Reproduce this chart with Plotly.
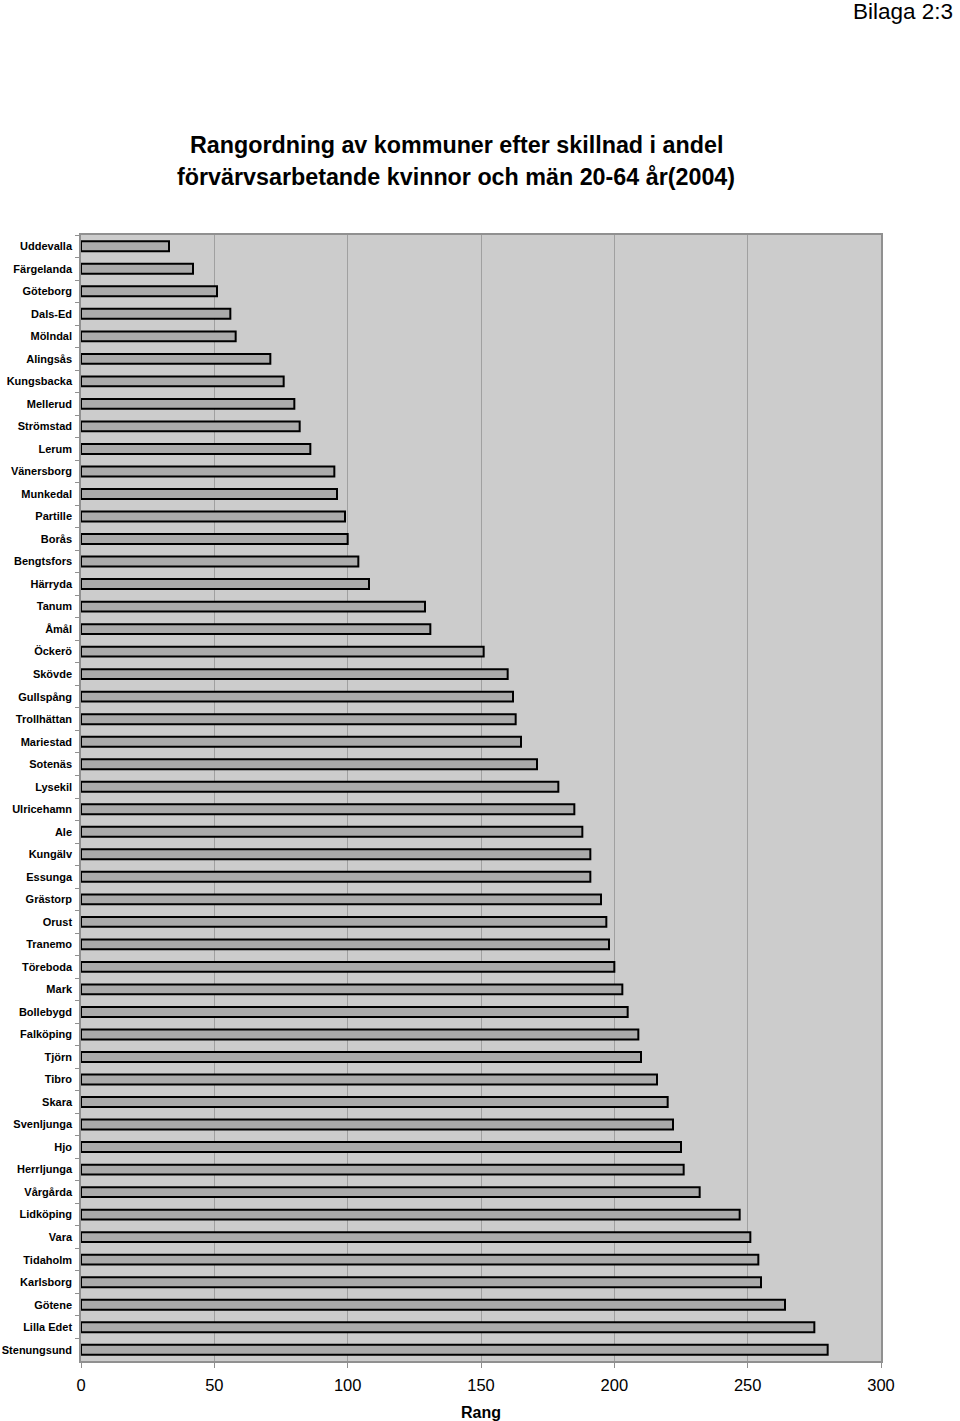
import plotly.graph_objects as go

kommuner = ["Uddevalla", "Färgelanda", "Göteborg", "Dals-Ed", "Mölndal", "Alingsås",
            "Kungsbacka", "Mellerud", "Strömstad", "Lerum", "Vänersborg", "Munkedal",
            "Partille", "Borås", "Bengtsfors", "Härryda", "Tanum", "Åmål", "Öckerö",
            "Skövde", "Gullspång", "Trollhättan", "Mariestad", "Sotenäs", "Lysekil",
            "Ulricehamn", "Ale", "Kungälv", "Essunga", "Grästorp", "Orust", "Tranemo",
            "Töreboda", "Mark", "Bollebygd", "Falköping", "Tjörn", "Tibro", "Skara",
            "Svenljunga", "Hjo", "Herrljunga", "Vårgårda", "Lidköping", "Vara",
            "Tidaholm", "Karlsborg", "Götene", "Lilla Edet", "Stenungsund"]

rang = [33, 42, 51, 56, 58, 71, 76, 80, 82, 86, 95, 96, 99, 100, 104, 108, 129, 131, 151,
        160, 162, 163, 165, 171, 179, 185, 188, 191, 191, 195, 197, 198, 200, 203, 205,
        209, 210, 216, 220, 222, 225, 226, 232, 247, 251, 254, 255, 264, 275, 280]

x_ticks = [0, 50, 100, 150, 200, 250, 300]

title_lines = ["Rangordning av kommuner efter skillnad i andel",
               "förvärvsarbetande kvinnor och män 20-64 år(2004)"]

FONT = "Liberation Sans, Arial, sans-serif"
W, H = 960, 1421
ML, MR, MT, MB = 81, 79, 235, 60

fig = go.Figure()
fig.add_trace(go.Bar(
    x=rang, y=kommuner, orientation="h",
    width=0.44,
    marker=dict(color="#ABABAB", line=dict(color="#000000", width=2)),
    hoverinfo="x+y",
))

pw = W - ML - MR
ph = H - MT - MB


def px_to_paper(px, py):
    return (px - ML) / pw, 1 - (py - MT) / ph


anns = []
for text, (px, py), size, xanchor in [
    ("<b>" + title_lines[0] + "</b>", (456, 145), 23.3, "center"),
    ("<b>" + title_lines[1] + "</b>", (456, 177), 23.3, "center"),
    ("Bilaga 2:3", (955, 12), 22.5, "right"),
    ("<b>Rang</b>", (481, 1412), 16, "center"),
]:
    xp, yp = px_to_paper(px, py)
    anns.append(dict(text=text, x=xp, y=yp, xref="paper", yref="paper",
                     xanchor=xanchor, yanchor="middle", showarrow=False,
                     font=dict(size=size, family=FONT, color="black")))

fig.update_layout(
    template="none",
    width=W, height=H,
    margin=dict(l=ML, r=MR, t=MT, b=MB, autoexpand=False),
    paper_bgcolor="white",
    plot_bgcolor="#CCCCCC",
    showlegend=False,
    font=dict(family=FONT, color="black"),
    xaxis=dict(
        range=[0, 300], tickvals=x_ticks, ticktext=[str(v) for v in x_ticks],
        showgrid=True, gridcolor="#A0A0A0", gridwidth=1,
        showline=True, linecolor="#909090", linewidth=1.5, mirror=True,
        ticks="outside", ticklen=5, tickcolor="#909090",
        tickfont=dict(size=16.5, family=FONT),
        ticklabelstandoff=3,
        zeroline=False, automargin=False,
    ),
    yaxis=dict(
        autorange="reversed",
        tickson="boundaries",
        showgrid=False,
        showline=True, linecolor="#909090", linewidth=1.5, mirror=True,
        ticks="outside", ticklen=4, tickcolor="#909090",
        tickfont=dict(size=11, family=FONT, weight="bold"),
        ticklabelstandoff=5,
        automargin=False,
    ),
    annotations=anns,
)

fig.write_html("out.html")
